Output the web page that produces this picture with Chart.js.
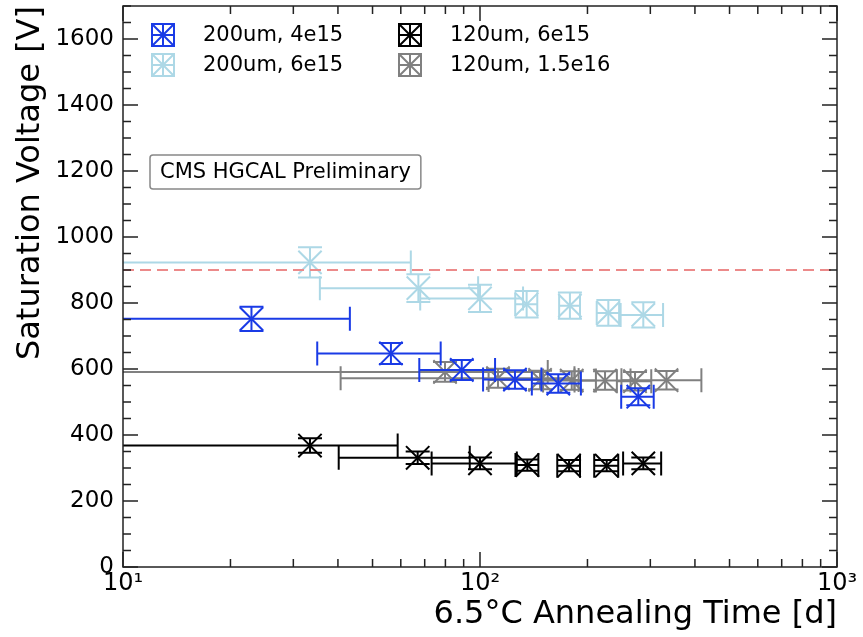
<!DOCTYPE html>
<html><head><meta charset="utf-8">
<script src="https://cdn.jsdelivr.net/npm/chart.js@4.4.0/dist/chart.umd.min.js"></script>
<style>html,body{margin:0;padding:0;background:#fff}</style>
</head><body>
<canvas id="c" width="863" height="637"></canvas>
<script>
// ---- data ----
const seriesLabels = ['200um, 4e15', '200um, 6e15', '120um, 6e15', '120um, 1.5e16'];
const seriesColors = ['#1a3be6', '#add8e6', '#000000', '#808080'];

const b4_x    = [22.9, 56.3, 88.9, 125.3, 165.7, 277.6];
const b4_xerr = [20.3, 21.3, 21.3, 23.3, 26.0, 29.0];
const b4_y    = [752, 647, 597, 568, 556, 516];
const b4_yerr = [37, 32, 30, 28, 28, 26];

const lb6_x    = [33.4, 67.2, 100, 135.1, 178.6, 228.8, 286.7];
const lb6_xerr = [30.6, 31.6, 32.0, 9.6, 12.0, 16.5, 39.0];
const lb6_y    = [923, 845, 814, 796, 792, 770, 764];
const lb6_yerr = [46, 42, 41, 40, 40, 39, 38];

const b6_x    = [33.4, 66.9, 100, 135.7, 177.6, 226.4, 286.7];
const b6_xerr = [25.4, 26.7, 26.8, 10.0, 13.0, 17.5, 35.0];
const b6_y    = [368, 331, 314, 309, 307, 307, 314];
const b6_yerr = [22, 19, 18, 17, 17, 17, 18];

const g15_x    = [79.8, 112.3, 147.3, 180.7, 224, 271.8, 333];
const g15_xerr = [75.0, 71.6, 41.6, 30.5, 40.0, 30.0, 84.0];
const g15_y    = [591, 572, 567, 565, 565, 563, 566];
const g15_yerr = [30, 29, 28, 28, 28, 28, 28];

const thresholdX = [10, 1000];
const thresholdY = [900, 900];

const yTickValues = [0, 200, 400, 600, 800, 1000, 1200, 1400, 1600];
const xTickValues = [10, 100, 1000];
const xTickLabels = ['10\u00B9', '10\u00B2', '10\u00B3'];
const annotationText = 'CMS HGCAL Preliminary';

// ---- helpers ----
const FONT = 'DejaVu Sans';
Chart.defaults.font.family = FONT;
Chart.defaults.color = '#000';

function pts(xs, ys) { return xs.map((x, i) => ({x: x, y: ys[i]})); }

function mkSeries(idx, xs, ys, xe, ye, order) {
  return {
    label: seriesLabels[idx],
    data: pts(xs, ys),
    errX: xe, errY: ye,
    borderColor: seriesColors[idx],
    backgroundColor: seriesColors[idx],
    pointStyle: 'crossRot',
    pointRadius: 16.5,
    pointHoverRadius: 16.5,
    pointBorderWidth: 2,
    showLine: false,
    order: order
  };
}

const errBarPlugin = {
  id: 'errbars',
  beforeDatasetDraw(chart, args) {
    const ds = chart.data.datasets[args.index];
    if (!ds.errX) return;
    const xs = chart.scales.x, ys = chart.scales.y, ctx = chart.ctx, a = chart.chartArea;
    const cap = 12;
    ctx.save();
    ctx.beginPath();
    ctx.rect(a.left, a.top, a.right - a.left, a.bottom - a.top);
    ctx.clip();
    ctx.strokeStyle = ds.borderColor;
    ctx.lineWidth = 2;
    ds.data.forEach((p, i) => {
      const lo = p.x - ds.errX[i], hi = p.x + ds.errX[i];
      const xl = lo > 0 ? xs.getPixelForValue(lo) : a.left - 100;
      const xh = xs.getPixelForValue(hi);
      const xc = xs.getPixelForValue(p.x);
      const yc = ys.getPixelForValue(p.y);
      const yl = ys.getPixelForValue(p.y - ds.errY[i]);
      const yh = ys.getPixelForValue(p.y + ds.errY[i]);
      ctx.beginPath();
      ctx.moveTo(xl, yc); ctx.lineTo(xh, yc);
      if (lo > 0) { ctx.moveTo(xl, yc - cap); ctx.lineTo(xl, yc + cap); }
      ctx.moveTo(xh, yc - cap); ctx.lineTo(xh, yc + cap);
      ctx.moveTo(xc, yl); ctx.lineTo(xc, yh);
      ctx.moveTo(xc - cap, yl); ctx.lineTo(xc + cap, yl);
      ctx.moveTo(xc - cap, yh); ctx.lineTo(xc + cap, yh);
      ctx.stroke();
    });
    ctx.restore();
  }
};

const framePlugin = {
  id: 'frame',
  afterDraw(chart) {
    const ctx = chart.ctx, a = chart.chartArea, xs = chart.scales.x, ys = chart.scales.y;
    ctx.save();
    ctx.strokeStyle = '#222';
    ctx.lineWidth = 1.5;
    ctx.strokeRect(a.left, a.top, a.right - a.left, a.bottom - a.top);
    ctx.beginPath();
    for (let v = 0; v <= 1700; v += 50) {
      const y = ys.getPixelForValue(v);
      const L = (v % 200 === 0) ? 15 : 8;
      ctx.moveTo(a.left, y); ctx.lineTo(a.left + L, y);
      ctx.moveTo(a.right, y); ctx.lineTo(a.right - L, y);
    }
    for (let d = 10; d < 1000; d *= 10) {
      for (let m = 1; m <= 9; m++) {
        const x = xs.getPixelForValue(d * m);
        const L = (m === 1) ? 15 : 8;
        ctx.moveTo(x, a.bottom); ctx.lineTo(x, a.bottom - L);
        ctx.moveTo(x, a.top); ctx.lineTo(x, a.top + L);
      }
    }
    const x3 = xs.getPixelForValue(1000);
    ctx.moveTo(x3, a.bottom); ctx.lineTo(x3, a.bottom - 15);
    ctx.moveTo(x3, a.top); ctx.lineTo(x3, a.top + 15);
    ctx.stroke();
    ctx.restore();
  }
};

function glyph(ctx, cx, cy, color) {
  const s = 11;
  ctx.strokeStyle = color;
  ctx.lineWidth = 2;
  ctx.beginPath();
  ctx.moveTo(cx - s, cy - s); ctx.lineTo(cx + s, cy + s);
  ctx.moveTo(cx + s, cy - s); ctx.lineTo(cx - s, cy + s);
  ctx.moveTo(cx, cy - s); ctx.lineTo(cx, cy + s);
  ctx.moveTo(cx - s, cy); ctx.lineTo(cx + s, cy);
  ctx.rect(cx - s, cy - s, 2 * s, 2 * s);
  ctx.stroke();
}

const legendPlugin = {
  id: 'customLegend',
  afterDraw(chart) {
    const ctx = chart.ctx, a = chart.chartArea;
    const cols = [a.left + 40, a.left + 287];
    const rows = [a.top + 29, a.top + 59];
    const slots = [[0, 0], [0, 1], [1, 0], [1, 1]];
    ctx.save();
    ctx.font = '21px "' + FONT + '"';
    ctx.textBaseline = 'middle';
    ctx.textAlign = 'left';
    seriesLabels.forEach((lab, i) => {
      const [c, r] = slots[i];
      glyph(ctx, cols[c], rows[r], seriesColors[i]);
      ctx.fillStyle = '#000';
      ctx.fillText(lab, cols[c] + 40, rows[r] + 1);
    });
    const tw = ctx.measureText(annotationText).width;
    const bx = a.left + 27, by = a.top + 149, bw = tw + 20, bh = 34;
    ctx.fillStyle = '#fff';
    ctx.strokeStyle = '#888';
    ctx.lineWidth = 1.5;
    ctx.beginPath();
    if (ctx.roundRect) ctx.roundRect(bx, by, bw, bh, 3); else ctx.rect(bx, by, bw, bh);
    ctx.fill(); ctx.stroke();
    ctx.fillStyle = '#000';
    ctx.fillText(annotationText, bx + 10, by + bh / 2 + 1);
    ctx.restore();
  }
};

const datasets = [
  {
    label: 'threshold',
    data: pts(thresholdX, thresholdY),
    showLine: true,
    borderColor: '#ec8a8a',
    borderWidth: 2,
    borderDash: [11, 6],
    pointRadius: 0,
    order: 0
  },
  mkSeries(0, b4_x, b4_y, b4_xerr, b4_yerr, 1),
  mkSeries(1, lb6_x, lb6_y, lb6_xerr, lb6_yerr, 2),
  mkSeries(2, b6_x, b6_y, b6_xerr, b6_yerr, 3),
  mkSeries(3, g15_x, g15_y, g15_xerr, g15_yerr, 4)
];

new Chart(document.getElementById('c'), {
  type: 'scatter',
  data: { datasets: datasets },
  options: {
    responsive: false,
    animation: false,
    events: [],
    layout: { autoPadding: false, padding: { top: 6, right: 26, left: 0, bottom: 0 } },
    plugins: { legend: { display: false }, tooltip: { enabled: false } },
    scales: {
      x: {
        type: 'logarithmic',
        min: 10, max: 1000,
        afterBuildTicks: s => { s.ticks = xTickValues.map(v => ({value: v})); },
        afterFit: s => { s.height = 70; s.paddingLeft = 0; s.paddingRight = 0; },
        ticks: {
          callback: (v, i) => xTickLabels[i],
          font: { size: 24 },
          color: '#000',
          padding: 2,
          maxRotation: 0,
          autoSkip: false
        },
        grid: { display: false, drawTicks: false },
        border: { display: false },
        title: {
          display: true,
          text: '6.5\u00B0C Annealing Time [d]',
          align: 'end',
          font: { size: 32 },
          color: '#000',
          padding: { top: 0, bottom: 3 }
        }
      },
      y: {
        type: 'linear',
        min: 0, max: 1700,
        afterBuildTicks: s => { s.ticks = yTickValues.map(v => ({value: v})); },
        afterFit: s => { s.width = 123; s.paddingTop = 0; s.paddingBottom = 0; },
        ticks: { callback: v => String(v), font: { size: 23 }, color: '#000', padding: 9 },
        grid: { display: false, drawTicks: false },
        border: { display: false },
        title: {
          display: true,
          text: 'Saturation Voltage [V]',
          align: 'end',
          font: { size: 32 },
          color: '#000',
          padding: { top: 11, bottom: 0 }
        }
      }
    }
  },
  plugins: [errBarPlugin, framePlugin, legendPlugin]
});
</script>
</body></html>
